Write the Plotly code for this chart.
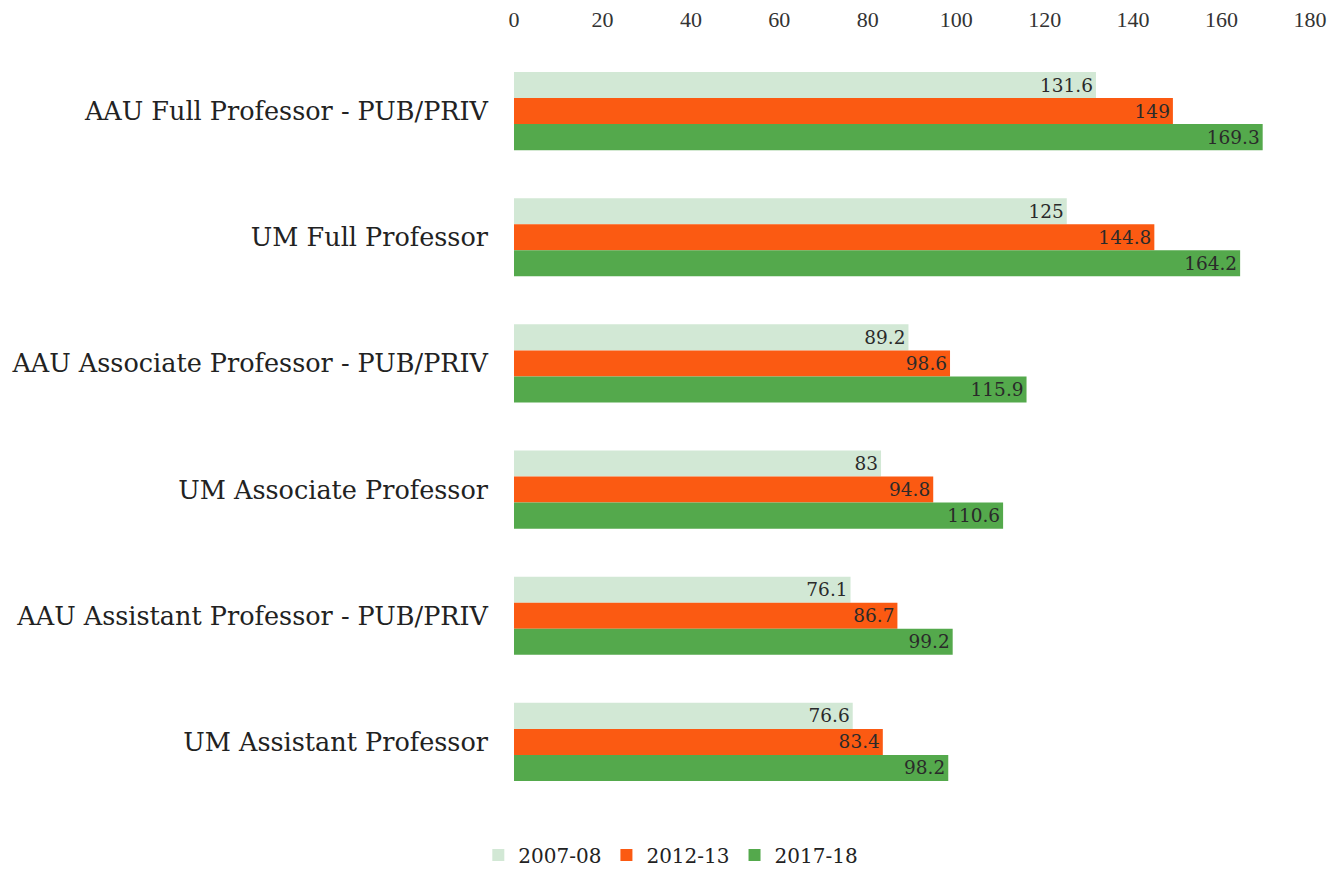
import plotly.graph_objects as go

categories = ["AAU Full Professor - PUB/PRIV", "UM Full Professor",
              "AAU Associate Professor - PUB/PRIV", "UM Associate Professor",
              "AAU Assistant Professor - PUB/PRIV", "UM Assistant Professor"]
s2007 = [131.6, 125, 89.2, 83, 76.1, 76.6]
s2012 = [149, 144.8, 98.6, 94.8, 86.7, 83.4]
s2017 = [169.3, 164.2, 115.9, 110.6, 99.2, 98.2]
tickvals = [0, 20, 40, 60, 80, 100, 120, 140, 160, 180]

series = [("2007-08", s2007, "#d2e8d5"), ("2012-13", s2012, "#fb5a12"), ("2017-18", s2017, "#54a94c")]

fig = go.Figure()
for name, vals, col in series:
    fig.add_trace(go.Bar(
        y=categories, x=vals, name=name, orientation="h",
        marker=dict(color=col, line=dict(width=0)),
        text=[f"{v:g}" for v in vals], textposition="inside", insidetextanchor="end",
        textangle=0, constraintext="none",
        textfont=dict(family="DejaVu Serif", size=18.5, color="#2a2a2a"),
        cliponaxis=False,
    ))

fig.update_layout(
    width=1335, height=861,
    barmode="group", bargap=0.38, bargroupgap=0,
    paper_bgcolor="white", plot_bgcolor="white",
    margin=dict(l=506, r=33, t=40, b=64, autoexpand=False),
    font=dict(family="DejaVu Serif", size=22, color="#222"),
    xaxis=dict(side="top", range=[0, 180], tickvals=tickvals, showgrid=False, automargin=False,
               zeroline=False, showline=False, ticks="", ticklabelstandoff=16,
               tickfont=dict(family="Liberation Serif", size=22, color="#333")),
    yaxis=dict(autorange="reversed", showgrid=False, showline=False, ticks="", automargin=False,
               ticklabelstandoff=25, tickfont=dict(size=25.5, color="#222")),
    legend=dict(orientation="h", x=0.197, xanchor="center", y=-0.066, yanchor="middle",
                font=dict(size=20), itemwidth=30, traceorder="normal"),
    showlegend=True,
)
fig.write_html("out.html")
